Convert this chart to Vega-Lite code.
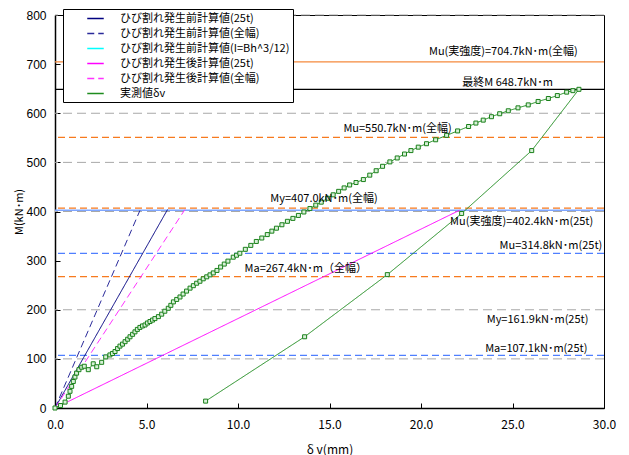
{
  "$schema": "https://vega.github.io/schema/vega-lite/v6.json",
  "width": 549,
  "height": 393,
  "autosize": {"type": "none"},
  "padding": {"left": 55, "top": 15, "right": 25, "bottom": 47},
  "background": "white",
  "config": {
    "view": {"stroke": "#000000", "strokeWidth": 1},
    "font": "Noto Sans CJK JP",
    "axis": {"domainColor": "#000000", "tickColor": "#000000", "labelColor": "#000000", "titleColor": "#000000", "grid": false, "domainWidth": 1.5, "labelFlush": false}
  },
  "layer": [
    {
      "data": {"values": [{"M": 100}, {"M": 200}, {"M": 400}, {"M": 500}, {"M": 600}, {"M": 800}]},
      "mark": {"type": "rule", "color": "#a8a8a8", "strokeDash": [9, 5], "strokeWidth": 1},
      "encoding": {"y": {"field": "M", "type": "quantitative"}}
    },
    {
      "data": {"values": [{"M": 704.7}]},
      "mark": {"type": "rule", "color": "#f58a3c", "strokeWidth": 1.2},
      "encoding": {"y": {"field": "M", "type": "quantitative"}}
    },
    {
      "data": {"values": [{"M": 648.7}]},
      "mark": {"type": "rule", "color": "#000000", "strokeWidth": 1.2},
      "encoding": {"y": {"field": "M", "type": "quantitative"}}
    },
    {
      "data": {"values": [{"M": 550.7}, {"M": 407.0}, {"M": 267.4}]},
      "mark": {"type": "rule", "color": "#f77a1e", "strokeDash": [7, 4], "strokeWidth": 1.2},
      "encoding": {"y": {"field": "M", "type": "quantitative"}}
    },
    {
      "data": {"values": [{"M": 402.4}]},
      "mark": {"type": "rule", "color": "#7fa6ff", "strokeWidth": 1.5},
      "encoding": {"y": {"field": "M", "type": "quantitative"}}
    },
    {
      "data": {"values": [{"M": 314.8}, {"M": 107.1}]},
      "mark": {"type": "rule", "color": "#4f7fff", "strokeDash": [7, 4], "strokeWidth": 1.2},
      "encoding": {"y": {"field": "M", "type": "quantitative"}}
    },
    {
      "data": {"name": "series"},
      "mark": {"type": "line", "strokeWidth": 1, "clip": true},
      "encoding": {
        "x": {"field": "d", "type": "quantitative", "scale": {"domain": [0, 30], "nice": false, "padding": 0, "zero": false},
          "axis": {"values": [0, 5, 10, 15, 20, 25, 30], "format": ".1f", "title": "δ v(mm)", "tickSize": -5, "labelPadding": 16, "labelFontSize": 12, "titleFontSize": 12, "titleFontWeight": "normal", "titlePadding": 14, "labelFont": "Noto Sans CJK JP"}},
        "y": {"field": "M", "type": "quantitative", "scale": {"domain": [0, 800], "nice": false, "padding": 0},
          "axis": {"values": [0, 100, 200, 300, 400, 500, 600, 700, 800], "title": "M(kN･m)", "tickSize": -5, "labelPadding": 14, "labelFontSize": 12, "titleFontSize": 11, "titleFontWeight": "normal", "titlePadding": 1, "labelFont": "Liberation Sans"}},
        "color": {"field": "series", "type": "nominal",
          "scale": {"domain": ["ひび割れ発生前計算値(25t)", "ひび割れ発生前計算値(全幅)", "ひび割れ発生前計算値(I=Bh^3/12)", "ひび割れ発生後計算値(25t)", "ひび割れ発生後計算値(全幅)", "実測値δv"],
            "range": ["#000080", "#2a2a9a", "#00ffff", "#ff00ff", "#ff33ff", "#1e8c1e"]},
          "legend": {"title": null, "orient": "none", "legendX": 8, "legendY": -6, "fillColor": "white", "strokeColor": "#000000", "padding": 3, "rowPadding": 3, "symbolType": "M-1.5,0H1.5", "symbolSize": 121, "symbolStrokeWidth": 1.3, "symbolOffset": 23, "labelFontSize": 11, "labelOffset": 18, "labelLimit": 300}},
        "strokeDash": {"field": "series", "type": "nominal",
          "scale": {"domain": ["ひび割れ発生前計算値(25t)", "ひび割れ発生前計算値(全幅)", "ひび割れ発生前計算値(I=Bh^3/12)", "ひび割れ発生後計算値(25t)", "ひび割れ発生後計算値(全幅)", "実測値δv"],
            "range": [[1, 0], [7, 4], [1, 0], [1, 0], [7, 4], [1, 0]]},
          "legend": {"title": null, "orient": "none", "legendX": 8, "legendY": -6, "fillColor": "white", "strokeColor": "#000000", "padding": 3, "rowPadding": 3, "symbolType": "M-1.5,0H1.5", "symbolSize": 121, "symbolStrokeWidth": 1.3, "symbolOffset": 23, "labelFontSize": 11, "labelOffset": 18, "labelLimit": 300}},
        "order": {"field": "o", "type": "quantitative"}
      }
    },
    {
      "data": {"name": "series"},
      "transform": [{"filter": "datum.series === '実測値δv'"}],
      "mark": {"type": "point", "shape": "square", "filled": false, "size": 16, "strokeWidth": 1, "color": "#1a801a", "fill": "#d8f0d8", "fillOpacity": 1},
      "encoding": {
        "x": {"field": "d", "type": "quantitative"},
        "y": {"field": "M", "type": "quantitative"}
      }
    },
    {
      "data": {"values": [
        {"d": 24.5, "M": 724.6, "t": "Mu(実強度)=704.7kN･m(全幅)"},
        {"d": 24.73, "M": 662, "t": "最終M 648.7kN･m"},
        {"d": 18.72, "M": 567, "t": "Mu=550.7kN･m(全幅)"},
        {"d": 14.7, "M": 425.5, "t": "My=407.0kN･m(全幅)"},
        {"d": 25.5, "M": 378, "t": "Mu(実強度)=402.4kN･m(25t)"},
        {"d": 27.1, "M": 330.4, "t": "Mu=314.8kN･m(25t)"},
        {"d": 13.7, "M": 282, "t": "Ma=267.4kN･m（全幅）"},
        {"d": 26.37, "M": 179, "t": "My=161.9kN･m(25t)"},
        {"d": 26.3, "M": 120, "t": "Ma=107.1kN･m(25t)"}
      ]},
      "mark": {"type": "text", "fontSize": 11, "align": "center", "baseline": "middle", "color": "#000000"},
      "encoding": {
        "x": {"field": "d", "type": "quantitative"},
        "y": {"field": "M", "type": "quantitative"},
        "text": {"field": "t"}
      }
    }
  ],
  "datasets": {
    "series": [
      {"series": "ひび割れ発生前計算値(25t)", "o": 0, "d": 0, "M": 0},
      {"series": "ひび割れ発生前計算値(25t)", "o": 1, "d": 6.15, "M": 404},
      {"series": "ひび割れ発生前計算値(全幅)", "o": 0, "d": 0, "M": 0},
      {"series": "ひび割れ発生前計算値(全幅)", "o": 1, "d": 4.64, "M": 402},
      {"series": "ひび割れ発生後計算値(25t)", "o": 0, "d": 0, "M": 0},
      {"series": "ひび割れ発生後計算値(25t)", "o": 1, "d": 22.1, "M": 402.4},
      {"series": "ひび割れ発生後計算値(全幅)", "o": 0, "d": 0, "M": 0},
      {"series": "ひび割れ発生後計算値(全幅)", "o": 1, "d": 7.1, "M": 404},
      {"series": "実測値δv", "o": 0, "d": 0, "M": 0},
      {"series": "実測値δv", "o": 1, "d": 0.3, "M": 5},
      {"series": "実測値δv", "o": 2, "d": 0.55, "M": 12},
      {"series": "実測値δv", "o": 3, "d": 0.73, "M": 24},
      {"series": "実測値δv", "o": 4, "d": 0.82, "M": 34},
      {"series": "実測値δv", "o": 5, "d": 0.91, "M": 44},
      {"series": "実測値δv", "o": 6, "d": 1.0, "M": 54},
      {"series": "実測値δv", "o": 7, "d": 1.09, "M": 63},
      {"series": "実測値δv", "o": 8, "d": 1.18, "M": 71},
      {"series": "実測値δv", "o": 9, "d": 1.31, "M": 78},
      {"series": "実測値δv", "o": 10, "d": 1.46, "M": 83},
      {"series": "実測値δv", "o": 11, "d": 1.6, "M": 85},
      {"series": "実測値δv", "o": 12, "d": 1.82, "M": 78},
      {"series": "実測値δv", "o": 13, "d": 2.09, "M": 90},
      {"series": "実測値δv", "o": 14, "d": 2.28, "M": 84},
      {"series": "実測値δv", "o": 15, "d": 2.55, "M": 93},
      {"series": "実測値δv", "o": 16, "d": 2.77, "M": 104},
      {"series": "実測値δv", "o": 17, "d": 3.0, "M": 108},
      {"series": "実測値δv", "o": 18, "d": 3.14, "M": 111},
      {"series": "実測値δv", "o": 19, "d": 3.28, "M": 115},
      {"series": "実測値δv", "o": 20, "d": 3.42, "M": 121},
      {"series": "実測値δv", "o": 21, "d": 3.55, "M": 126},
      {"series": "実測値δv", "o": 22, "d": 3.69, "M": 130},
      {"series": "実測値δv", "o": 23, "d": 3.83, "M": 135},
      {"series": "実測値δv", "o": 24, "d": 3.97, "M": 140},
      {"series": "実測値δv", "o": 25, "d": 4.1, "M": 145},
      {"series": "実測値δv", "o": 26, "d": 4.24, "M": 150},
      {"series": "実測値δv", "o": 27, "d": 4.37, "M": 155},
      {"series": "実測値δv", "o": 28, "d": 4.5, "M": 160},
      {"series": "実測値δv", "o": 29, "d": 4.64, "M": 164},
      {"series": "実測値δv", "o": 30, "d": 4.78, "M": 167},
      {"series": "実測値δv", "o": 31, "d": 4.92, "M": 169},
      {"series": "実測値δv", "o": 32, "d": 5.05, "M": 173},
      {"series": "実測値δv", "o": 33, "d": 5.19, "M": 176},
      {"series": "実測値δv", "o": 34, "d": 5.33, "M": 179},
      {"series": "実測値δv", "o": 35, "d": 5.46, "M": 182},
      {"series": "実測値δv", "o": 36, "d": 5.65, "M": 186},
      {"series": "実測値δv", "o": 37, "d": 5.83, "M": 191},
      {"series": "実測値δv", "o": 38, "d": 6.0, "M": 197},
      {"series": "実測値δv", "o": 39, "d": 6.19, "M": 203},
      {"series": "実測値δv", "o": 40, "d": 6.33, "M": 209},
      {"series": "実測値δv", "o": 41, "d": 6.47, "M": 216},
      {"series": "実測値δv", "o": 42, "d": 6.65, "M": 221},
      {"series": "実測値δv", "o": 43, "d": 6.83, "M": 226},
      {"series": "実測値δv", "o": 44, "d": 7.0, "M": 232},
      {"series": "実測値δv", "o": 45, "d": 7.19, "M": 238},
      {"series": "実測値δv", "o": 46, "d": 7.38, "M": 244},
      {"series": "実測値δv", "o": 47, "d": 7.56, "M": 249},
      {"series": "実測値δv", "o": 48, "d": 7.74, "M": 254},
      {"series": "実測値δv", "o": 49, "d": 7.92, "M": 258},
      {"series": "実測値δv", "o": 50, "d": 8.1, "M": 263},
      {"series": "実測値δv", "o": 51, "d": 8.29, "M": 267},
      {"series": "実測値δv", "o": 52, "d": 8.47, "M": 271},
      {"series": "実測値δv", "o": 53, "d": 8.65, "M": 275},
      {"series": "実測値δv", "o": 54, "d": 8.85, "M": 280},
      {"series": "実測値δv", "o": 55, "d": 9.05, "M": 287},
      {"series": "実測値δv", "o": 56, "d": 9.25, "M": 293},
      {"series": "実測値δv", "o": 57, "d": 9.45, "M": 299},
      {"series": "実測値δv", "o": 58, "d": 9.74, "M": 307},
      {"series": "実測値δv", "o": 59, "d": 9.92, "M": 311},
      {"series": "実測値δv", "o": 60, "d": 10.1, "M": 315},
      {"series": "実測値δv", "o": 61, "d": 10.4, "M": 323},
      {"series": "実測値δv", "o": 62, "d": 10.7, "M": 331},
      {"series": "実測値δv", "o": 63, "d": 11.0, "M": 339},
      {"series": "実測値δv", "o": 64, "d": 11.3, "M": 346},
      {"series": "実測値δv", "o": 65, "d": 11.6, "M": 353},
      {"series": "実測値δv", "o": 66, "d": 11.85, "M": 360},
      {"series": "実測値δv", "o": 67, "d": 12.1, "M": 366},
      {"series": "実測値δv", "o": 68, "d": 12.4, "M": 373},
      {"series": "実測値δv", "o": 69, "d": 12.7, "M": 380},
      {"series": "実測値δv", "o": 70, "d": 13.0, "M": 386},
      {"series": "実測値δv", "o": 71, "d": 13.3, "M": 392},
      {"series": "実測値δv", "o": 72, "d": 13.6, "M": 399},
      {"series": "実測値δv", "o": 73, "d": 13.93, "M": 406},
      {"series": "実測値δv", "o": 74, "d": 14.25, "M": 413},
      {"series": "実測値δv", "o": 75, "d": 14.55, "M": 419},
      {"series": "実測値δv", "o": 76, "d": 14.9, "M": 427},
      {"series": "実測値δv", "o": 77, "d": 15.2, "M": 434},
      {"series": "実測値δv", "o": 78, "d": 15.5, "M": 441},
      {"series": "実測値δv", "o": 79, "d": 15.8, "M": 448},
      {"series": "実測値δv", "o": 80, "d": 16.1, "M": 454},
      {"series": "実測値δv", "o": 81, "d": 16.45, "M": 459},
      {"series": "実測値δv", "o": 82, "d": 16.85, "M": 465},
      {"series": "実測値δv", "o": 83, "d": 17.2, "M": 474},
      {"series": "実測値δv", "o": 84, "d": 17.55, "M": 483},
      {"series": "実測値δv", "o": 85, "d": 17.9, "M": 492},
      {"series": "実測値δv", "o": 86, "d": 18.3, "M": 501},
      {"series": "実測値δv", "o": 87, "d": 18.7, "M": 509},
      {"series": "実測値δv", "o": 88, "d": 19.1, "M": 517},
      {"series": "実測値δv", "o": 89, "d": 19.45, "M": 524},
      {"series": "実測値δv", "o": 90, "d": 19.85, "M": 531},
      {"series": "実測値δv", "o": 91, "d": 20.3, "M": 538},
      {"series": "実測値δv", "o": 92, "d": 20.8, "M": 546},
      {"series": "実測値δv", "o": 93, "d": 21.4, "M": 555},
      {"series": "実測値δv", "o": 94, "d": 22.0, "M": 564},
      {"series": "実測値δv", "o": 95, "d": 22.6, "M": 573},
      {"series": "実測値δv", "o": 96, "d": 23.0, "M": 580},
      {"series": "実測値δv", "o": 97, "d": 23.4, "M": 586},
      {"series": "実測値δv", "o": 98, "d": 23.85, "M": 593},
      {"series": "実測値δv", "o": 99, "d": 24.3, "M": 599},
      {"series": "実測値δv", "o": 100, "d": 24.77, "M": 605},
      {"series": "実測値δv", "o": 101, "d": 25.3, "M": 611},
      {"series": "実測値δv", "o": 102, "d": 25.86, "M": 617},
      {"series": "実測値δv", "o": 103, "d": 26.4, "M": 624},
      {"series": "実測値δv", "o": 104, "d": 26.96, "M": 630},
      {"series": "実測値δv", "o": 105, "d": 27.45, "M": 636},
      {"series": "実測値δv", "o": 106, "d": 27.96, "M": 643},
      {"series": "実測値δv", "o": 107, "d": 28.3, "M": 646},
      {"series": "実測値δv", "o": 108, "d": 28.63, "M": 648.7},
      {"series": "実測値δv", "o": 109, "d": 26.05, "M": 524},
      {"series": "実測値δv", "o": 110, "d": 22.22, "M": 396},
      {"series": "実測値δv", "o": 111, "d": 18.16, "M": 271.5},
      {"series": "実測値δv", "o": 112, "d": 13.64, "M": 145},
      {"series": "実測値δv", "o": 113, "d": 8.23, "M": 14}
    ]
  }
}
